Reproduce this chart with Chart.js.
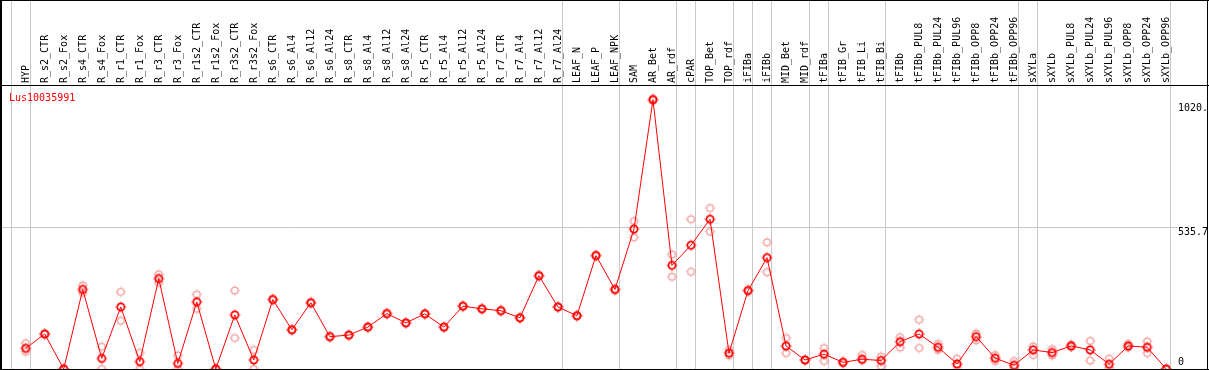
<!DOCTYPE html>
<html>
<head>
<meta charset="utf-8">
<script src="https://cdn.jsdelivr.net/npm/chart.js@4.4.1/dist/chart.umd.min.js"></script>
<style>
  html, body { margin: 0; padding: 0; background: #fff; }
  #wrap { width: 1209px; height: 370px; position: relative; }
</style>
</head>
<body>
<div id="wrap"><canvas id="expr-chart"></canvas></div>
<script>
const geneName = 'Lus10035991';

const categories = [
  'HYP', 'R_s2_CTR', 'R_s2_Fox', 'R_s4_CTR', 'R_s4_Fox', 'R_r1_CTR', 'R_r1_Fox',
  'R_r3_CTR', 'R_r3_Fox', 'R_r1s2_CTR', 'R_r1s2_Fox', 'R_r3s2_CTR', 'R_r3s2_Fox',
  'R_s6_CTR', 'R_s6_Al4', 'R_s6_Al12', 'R_s6_Al24', 'R_s8_CTR', 'R_s8_Al4',
  'R_s8_Al12', 'R_s8_Al24', 'R_r5_CTR', 'R_r5_Al4', 'R_r5_Al12', 'R_r5_Al24',
  'R_r7_CTR', 'R_r7_Al4', 'R_r7_Al12', 'R_r7_Al24', 'LEAF_N', 'LEAF_P', 'LEAF_NPK',
  'SAM', 'AR_Bet', 'AR_rdf', 'cPAR', 'TOP_Bet', 'TOP_rdf', 'iFIBa', 'iFIBb',
  'MID_Bet', 'MID_rdf', 'tFIBa', 'tFIB_Gr', 'tFIB_Li', 'tFIB_Bi', 'tFIBb',
  'tFIBb_PUL8', 'tFIBb_PUL24', 'tFIBb_PUL96', 'tFIBb_OPP8', 'tFIBb_OPP24', 'tFIBb_OPP96',
  'sXYLa', 'sXYLb', 'sXYLb_PUL8', 'sXYLb_PUL24', 'sXYLb_PUL96', 'sXYLb_OPP8',
  'sXYLb_OPP24', 'sXYLb_OPP96'
];

// mean expression per sample
const meanValues = [
  78, 132, 0, 300, 40, 234, 28, 341, 21, 253, 0, 204, 34,
  262, 148, 250, 122, 128, 158, 209, 174, 208, 158, 237, 227,
  220, 193, 352, 234, 201, 428, 300,
  528, 1016, 391, 467, 565, 60, 296, 420, 87, 34,
  56, 25, 37, 32, 103, 132, 82, 19, 122, 41, 14,
  72, 62, 87, 72, 18, 87, 82, 0
];

// replicates (upper / lower)
const repHigh = [
  97, 134, 0, 315, 84, 291, 61, 357, 51, 281, 0, 296, 72,
  264, 150, 252, 124, 130, 160, 211, 176, 210, 160, 239, 229,
  222, 195, 354, 236, 203, 430, 302,
  558, 1020.4, 432, 565, 607, 72, 298, 478, 117, 36,
  79, 28, 53, 47, 120, 186, 95, 39, 134, 53, 30,
  85, 75, 93, 106, 39, 95, 104, 0
];
const repLow = [
  65, 130, 0, 287, 0, 182, 0, 325, 0, 227, 0, 117, 0,
  260, 146, 248, 120, 126, 156, 207, 172, 206, 156, 235, 225,
  218, 191, 350, 232, 199, 426, 298,
  497, 1012, 348, 367, 518, 51, 294, 365, 60, 32,
  30, 22, 33, 11, 81, 79, 72, 10, 108, 30, 5,
  53, 51, 83, 32, 5, 81, 60, 0
];

// group separators (in category units) and y-axis labels
const groupBreaks = [-0.8, 0.2, 28.2, 31.2, 34.2, 35.2, 37.2, 38.2, 39.2, 41.2, 42.2, 45.2, 52.2, 53.2, 60.2];
const yTickValues = [0, 535.7, 1020.4];
const yTickLabels = ['0', '535.7', '1020.'];
const yMax = 1071.4;

const monoFont = '"DejaVu Sans Mono", "Liberation Mono", monospace';

function makeMarker(color, r, lw) {
  const size = Math.ceil(r * 2 + 6);
  const c = document.createElement('canvas');
  c.width = size; c.height = size;
  const g = c.getContext('2d');
  const m = size / 2;
  g.strokeStyle = color;
  g.lineWidth = lw;
  g.beginPath();
  g.arc(m, m, r, 0, Math.PI * 2);
  g.stroke();
  // tiny nubs on the ring
  g.fillStyle = color;
  g.fillRect(m - 0.5, m - r - lw / 2 - 1, 1, 1);
  g.fillRect(m - 0.5, m + r + lw / 2, 1, 1);
  g.fillRect(m - r - lw / 2 - 1, m - 0.5, 1, 1);
  g.fillRect(m + r + lw / 2, m - 0.5, 1, 1);
  return c;
}

const meanMarker = makeMarker('#ff0000', 3.6, 1.7);
const repMarker = makeMarker('#f0a0a0', 3.4, 1.4);

const toPoints = arr => arr.map((v, i) => ({ x: i, y: v }));

const framePlugin = {
  id: 'frame',
  beforeDatasetsDraw(chart) {
    const { ctx, chartArea, scales } = chart;
    const x = scales.x, y = scales.y;
    ctx.save();
    ctx.strokeStyle = '#c8c8c8';
    ctx.lineWidth = 1;
    // vertical group separators run through the header too
    groupBreaks.forEach(b => {
      const px = Math.round(x.getPixelForValue(b)) + 0.5;
      ctx.beginPath();
      ctx.moveTo(px, 0);
      ctx.lineTo(px, chartArea.bottom);
      ctx.stroke();
    });
    const gy = Math.round(y.getPixelForValue(yTickValues[1])) + 0.5;
    ctx.beginPath();
    ctx.moveTo(chartArea.left, gy);
    ctx.lineTo(chartArea.right + 8, gy);
    ctx.stroke();

    // sample names, rotated, reading upwards from the header line
    ctx.fillStyle = '#000';
    ctx.font = '10px ' + monoFont;
    ctx.textAlign = 'left';
    ctx.textBaseline = 'middle';
    categories.forEach((name, i) => {
      ctx.save();
      ctx.translate(Math.round(x.getPixelForValue(i)) + 0.5, chartArea.top - 2);
      ctx.rotate(-Math.PI / 2);
      ctx.fillText(name, 0, 0);
      ctx.restore();
    });
    ctx.restore();
  },
  afterDraw(chart) {
    const { ctx, chartArea, scales, width } = chart;
    const y = scales.y;
    ctx.save();
    ctx.fillStyle = '#000';
    ctx.fillRect(0, 0, width, 1);
    ctx.fillRect(0, chartArea.top, width, 1);
    ctx.fillRect(0, chartArea.bottom, width, 1);
    ctx.fillRect(0, 0, 2, chartArea.bottom + 1);
    ctx.fillRect(width - 2, 0, 1, chartArea.bottom + 1);

    ctx.font = '10px ' + monoFont;
    ctx.textAlign = 'left';
    ctx.textBaseline = 'middle';
    const offsets = [-7, 5, 10];
    yTickValues.forEach((v, i) => {
      ctx.fillText(yTickLabels[i], chartArea.right + 8, y.getPixelForValue(v) + offsets[i]);
    });

    ctx.fillStyle = '#ff0000';
    ctx.fillText(geneName, 9, chartArea.top + 13);
    ctx.restore();
  }
};

const ctx = document.getElementById('expr-chart');

new Chart(ctx, {
  type: 'line',
  data: {
    datasets: [
      {
        label: 'mean',
        data: toPoints(meanValues),
        borderColor: '#ff0000',
        borderWidth: 1,
        pointStyle: meanMarker,
        pointRadius: 5,
        tension: 0,
        order: 0
      },
      {
        label: 'rep1',
        data: toPoints(repHigh),
        showLine: false,
        pointStyle: repMarker,
        pointRadius: 5,
        order: 1
      },
      {
        label: 'rep2',
        data: toPoints(repLow),
        showLine: false,
        pointStyle: repMarker,
        pointRadius: 5,
        order: 1
      }
    ]
  },
  options: {
    responsive: true,
    maintainAspectRatio: false,
    animation: false,
    clip: false,
    layout: {
      autoPadding: false,
      padding: { left: 1, right: 39, top: 0, bottom: 1 }
    },
    plugins: {
      legend: { display: false },
      tooltip: { enabled: false }
    },
    scales: {
      x: {
        type: 'linear',
        position: 'top',
        min: -1.3,
        max: 60.2,
        grid: { display: false, drawTicks: false },
        border: { display: false },
        ticks: { display: false },
        afterFit: scale => { scale.height = 85; }
      },
      y: {
        display: false,
        min: 0,
        max: yMax
      }
    }
  },
  plugins: [framePlugin]
});
</script>
</body>
</html>
